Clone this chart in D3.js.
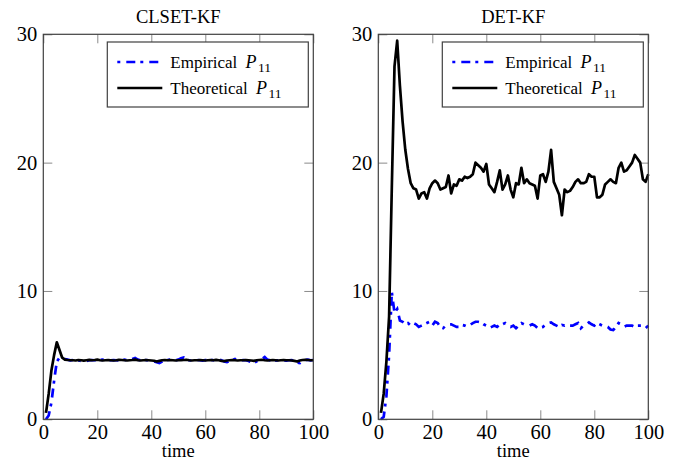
<!DOCTYPE html>
<html>
<head>
<meta charset="utf-8">
<script src="https://cdn.jsdelivr.net/npm/d3@7"></script>
<style>
  body { margin: 0; background: #fff; }
  text { font-family: "Liberation Serif", "Times New Roman", serif; fill: #000; }
</style>
</head>
<body>
<div id="visHolder"></div>
<script>
var width = 690;
var height = 463;

var panelTitles = ["CLSET-KF", "DET-KF"];
var legendNames = ["Empirical", "Theoretical"];
var xTicks = [0, 20, 40, 60, 80, 100];
var yTicks = [0, 10, 20, 30];

// CLSET-KF
var clsetEmpirical = [
  0.0, 0.3, 1.3, 3.0, 4.5, 4.8, 4.82, 4.7, 4.65, 4.6,
  4.62, 4.58, 4.6, 4.55, 4.52, 4.55, 4.6, 4.62, 4.6, 4.58,
  4.62, 4.65, 4.6, 4.58, 4.6, 4.62, 4.6, 4.58, 4.62, 4.65,
  4.6, 4.62, 4.7, 4.78, 4.65, 4.6, 4.58, 4.62, 4.6, 4.55,
  4.52, 4.45, 4.38, 4.5, 4.6, 4.62, 4.65, 4.7, 4.6, 4.65,
  4.75, 4.82, 4.65, 4.6, 4.58, 4.6, 4.62, 4.6, 4.58, 4.62,
  4.6, 4.64, 4.6, 4.58, 4.65, 4.6, 4.5, 4.45, 4.55, 4.62,
  4.7, 4.6, 4.58, 4.62, 4.6, 4.55, 4.45, 4.38, 4.52, 4.6,
  4.7, 4.85, 4.65, 4.6, 4.62, 4.58, 4.6, 4.62, 4.6, 4.58,
  4.6, 4.62, 4.5, 4.42, 4.38, 4.55, 4.62, 4.65, 4.6, 4.62
];
var clsetTheoretical = [
  0.5, 2.0, 3.8, 5.0, 6.0, 5.4, 4.8, 4.65, 4.62, 4.6,
  4.6, 4.58, 4.62, 4.6, 4.57, 4.6, 4.63, 4.6, 4.62, 4.65,
  4.6, 4.58, 4.6, 4.62, 4.6, 4.58, 4.6, 4.63, 4.62, 4.6,
  4.58, 4.6, 4.62, 4.65, 4.6, 4.58, 4.6, 4.62, 4.6, 4.58,
  4.56, 4.5, 4.55, 4.6, 4.62, 4.6, 4.62, 4.6, 4.58, 4.6,
  4.6, 4.62, 4.64, 4.6, 4.58, 4.6, 4.6, 4.62, 4.6, 4.58,
  4.6, 4.62, 4.6, 4.63, 4.6, 4.55, 4.53, 4.58, 4.6, 4.62,
  4.6, 4.58, 4.6, 4.6, 4.62, 4.6, 4.58, 4.55, 4.6, 4.62,
  4.64, 4.6, 4.58, 4.6, 4.62, 4.6, 4.58, 4.6, 4.62, 4.6,
  4.6, 4.58, 4.55, 4.5, 4.58, 4.62, 4.64, 4.62, 4.6, 4.6
];

// DET-KF
var detEmpirical = [
  0.0, 0.2, 1.8, 5.0, 9.9, 8.3, 8.6, 7.7, 7.6, 7.4,
  7.5, 7.3, 7.5, 7.4, 7.2, 7.3, 7.4, 7.5, 7.6, 7.3,
  7.6, 7.5, 7.2, 7.1, 7.3, 7.4, 7.4, 7.3, 7.2, 7.2,
  7.35, 7.3, 7.2, 7.35, 7.5, 7.6, 7.6, 7.55, 7.4, 7.3,
  7.1, 7.2, 7.3, 7.2, 7.4, 7.4, 7.5, 7.3, 7.2, 7.3,
  7.1, 7.3, 7.5, 7.4, 7.35, 7.3, 7.4, 7.3, 7.1, 7.15,
  7.2, 7.4, 7.5, 7.55, 7.4, 7.3, 7.2, 7.35, 7.3, 7.4,
  7.3, 7.3, 7.4, 7.5, 7.1, 7.3, 7.4, 7.55, 7.4, 7.3,
  7.5, 7.4, 7.3, 7.3, 7.2, 7.0, 6.95, 7.2, 7.5, 7.4,
  7.2, 7.3, 7.3, 7.3, 7.2, 7.3, 7.3, 7.3, 7.1, 7.3
];
var detTheoretical = [
  0.5, 2.0, 4.5, 8.0, 18.0, 27.5, 29.5, 26.0, 23.2, 21.0,
  19.5, 18.4, 18.0, 17.9, 17.2, 17.6, 17.7, 17.2, 18.0, 18.4,
  18.6, 18.4, 17.9, 18.0, 18.1, 19.0, 17.6, 18.3, 18.2, 18.7,
  18.6, 18.9, 18.8, 18.9, 19.1, 20.0, 19.8, 19.6, 19.3, 19.9,
  18.3, 18.0, 17.7, 18.5, 19.4, 17.9, 18.3, 19.0, 17.9, 17.3,
  18.4, 18.3, 19.6, 18.4, 18.7, 18.4, 18.3, 18.2, 17.2, 19.0,
  19.1, 18.5, 19.3, 21.0, 18.5, 18.0, 17.5, 15.9, 17.9, 17.7,
  17.8, 18.1, 18.5, 18.7, 18.4, 18.4, 18.5, 19.1, 18.9, 18.9,
  17.3, 17.3, 17.5, 18.3, 18.5, 18.7, 18.5, 18.4, 19.6, 20.0,
  19.3, 19.4, 19.7, 20.0, 20.6, 20.3, 20.0, 18.7, 18.5, 19.1
];

var panels = [
  { title: panelTitles[0], series: [clsetEmpirical, clsetTheoretical], left: 43.3 },
  { title: panelTitles[1], series: [detEmpirical, detTheoretical], left: 378.3 }
];

var plotW = 270;
var plotTop = 34.3;
var plotBottom = 419.3;

var svgContainer = d3
  .select("#visHolder")
  .append("svg")
  .attr("width", width)
  .attr("height", height);

var y = d3.scaleLinear().domain([0, 30]).range([plotBottom, plotTop]);

panels.forEach(function (p) {
  var x = d3.scaleLinear().domain([0, 100]).range([p.left, p.left + plotW]);
  var g = svgContainer.append("g");

  /* ticks, inward on all four sides */
  var axes = [
    { ax: d3.axisBottom(x).tickValues(xTicks).tickSize(-9).tickPadding(5), tr: "translate(0," + plotBottom + ")", lab: true },
    { ax: d3.axisTop(x).tickValues(xTicks).tickSize(-9), tr: "translate(0," + plotTop + ")", lab: false },
    { ax: d3.axisLeft(y).tickValues(yTicks).tickSize(-9).tickPadding(6), tr: "translate(" + p.left + ",0)", lab: true },
    { ax: d3.axisRight(y).tickValues(yTicks).tickSize(-9), tr: "translate(" + (p.left + plotW) + ",0)", lab: false }
  ];
  axes.forEach(function (a) {
    var ag = g.append("g").attr("transform", a.tr).call(a.ax);
    ag.select(".domain").remove();
    ag.selectAll("line").attr("stroke", "#8a8a8a").attr("stroke-width", 1);
    if (a.lab) {
      ag.selectAll("text")
        .style("font-family", "'Liberation Serif', serif")
        .style("font-size", "20.5px")
        .attr("fill", "#000");
    } else {
      ag.selectAll("text").remove();
    }
  });

  var line = d3.line()
    .x((d, i) => x(i + 1))
    .y((d) => y(d));

  g.append("path")
    .datum(p.series[0])
    .attr("d", line)
    .attr("fill", "none")
    .attr("stroke", "#0000ff")
    .attr("stroke-width", 2.7)
    .attr("stroke-dasharray", "9,5,3,6");

  g.append("path")
    .datum(p.series[1])
    .attr("d", line)
    .attr("fill", "none")
    .attr("stroke", "#000")
    .attr("stroke-width", 2.7)
    .attr("stroke-linejoin", "round");

  /* frame */
  g.append("rect")
    .attr("x", p.left)
    .attr("y", plotTop)
    .attr("width", plotW)
    .attr("height", plotBottom - plotTop)
    .attr("fill", "none")
    .attr("stroke", "#404040")
    .attr("stroke-width", 1.2);

  g.append("text")
    .attr("x", p.left + plotW / 2)
    .attr("y", 23)
    .attr("text-anchor", "middle")
    .style("font-size", "18.5px")
    .text(p.title);

  g.append("text")
    .attr("x", p.left + plotW / 2)
    .attr("y", 457)
    .attr("text-anchor", "middle")
    .style("font-size", "18.5px")
    .text("time");

  /* legend */
  var lx = p.left + plotW - 206;
  var legend = g.append("g").attr("transform", "translate(" + lx + ",42)");
  legend.append("rect")
    .attr("width", 201)
    .attr("height", 65)
    .attr("fill", "#fff")
    .attr("stroke", "#404040")
    .attr("stroke-width", 1.2);

  var entry = legend.selectAll(".legend-label")
    .data(legendNames)
    .enter()
    .append("g")
    .attr("class", "legend-label")
    .attr("transform", (d, i) => "translate(0," + (20 + 26 * i) + ")");
  entry.append("line")
    .attr("x1", 10).attr("x2", 55)
    .attr("stroke", (d, i) => i === 0 ? "#0000ff" : "#000")
    .attr("stroke-width", 2.7)
    .attr("stroke-dasharray", (d, i) => i === 0 ? "3,6,9,5" : null);
  var t = entry.append("text")
    .attr("x", 63)
    .attr("y", 6)
    .style("font-size", "17px");
  t.append("tspan").text((d) => d + " ");
  t.append("tspan").style("font-style", "italic").style("font-size", "18px").attr("dx", 4).text("P");
  t.append("tspan").style("font-size", "13.5px").attr("dy", 3.5).attr("dx", 1.5).text("11");
});
</script>
</body>
</html>
